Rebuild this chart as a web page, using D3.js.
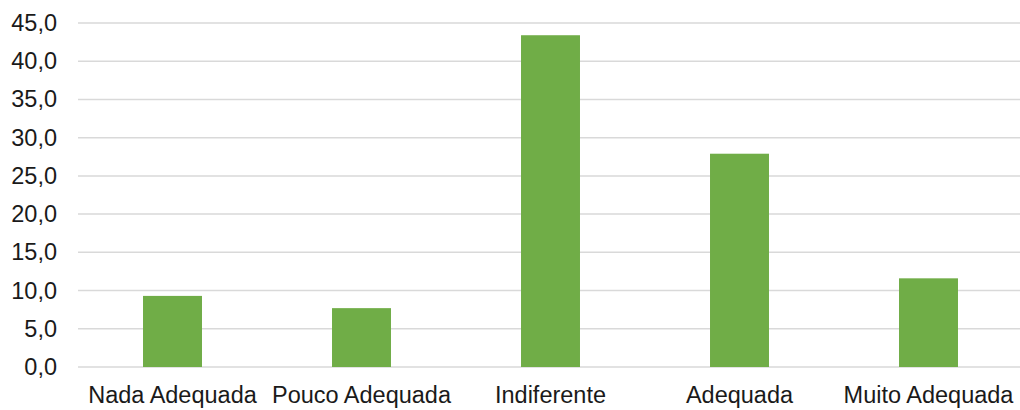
<!DOCTYPE html>
<html>
<head>
<meta charset="utf-8">
<script src="https://cdn.jsdelivr.net/npm/d3@7"></script>
<style>
  html, body { margin: 0; padding: 0; background: #fff; }
  svg text { font-family: "Liberation Sans", Arial, sans-serif; }
</style>
</head>
<body>
<svg id="chart" width="1020" height="410"></svg>
<script>
// Respostas por categoria (%)
const categories = ["Nada Adequada", "Pouco Adequada", "Indiferente", "Adequada", "Muito Adequada"];
const values = [9.3, 7.7, 43.4, 27.9, 11.6];
const yTicks = [0, 5, 10, 15, 20, 25, 30, 35, 40, 45];

const svg = d3.select("#chart");
const margin = { top: 23, right: -3, bottom: 43, left: 78 };
const width = 1020, height = 410;

const x = d3.scaleBand()
  .domain(categories)
  .range([margin.left, width - margin.right])
  .paddingInner(0.688)
  .paddingOuter(0.344);

const y = d3.scaleLinear()
  .domain([0, 45])
  .range([height - margin.bottom, margin.top]);

const fmt = v => d3.format(".1f")(v).replace(".", ",");

// Linhas de grade horizontais
svg.append("g")
  .selectAll("line")
  .data(yTicks)
  .join("line")
  .attr("x1", margin.left)
  .attr("x2", width)
  .attr("y1", d => y(d))
  .attr("y2", d => y(d))
  .attr("stroke", "#d9d9d9")
  .attr("stroke-width", 1.5);

// Eixo Y
const yAxis = svg.append("g")
  .attr("transform", `translate(${margin.left - 21},0)`)
  .call(d3.axisLeft(y).tickValues(yTicks).tickFormat(fmt).tickSize(0).tickPadding(0));
yAxis.select(".domain").remove();
yAxis.selectAll("text")
  .attr("fill", "#1a1a1a")
  .style("font-size", "23.5px");

// Barras
svg.append("g")
  .selectAll("rect")
  .data(values)
  .join("rect")
  .attr("x", (d, i) => x(categories[i]))
  .attr("width", x.bandwidth())
  .attr("y", d => y(d))
  .attr("height", d => y(0) - y(d))
  .attr("fill", "#70ad47");

// Eixo X
const xAxis = svg.append("g")
  .attr("transform", `translate(0,${y(0)})`)
  .call(d3.axisBottom(x).tickSize(0).tickPadding(19));
xAxis.select(".domain").remove();
xAxis.selectAll("text")
  .attr("fill", "#1a1a1a")
  .style("font-size", "23.5px");
</script>
</body>
</html>
